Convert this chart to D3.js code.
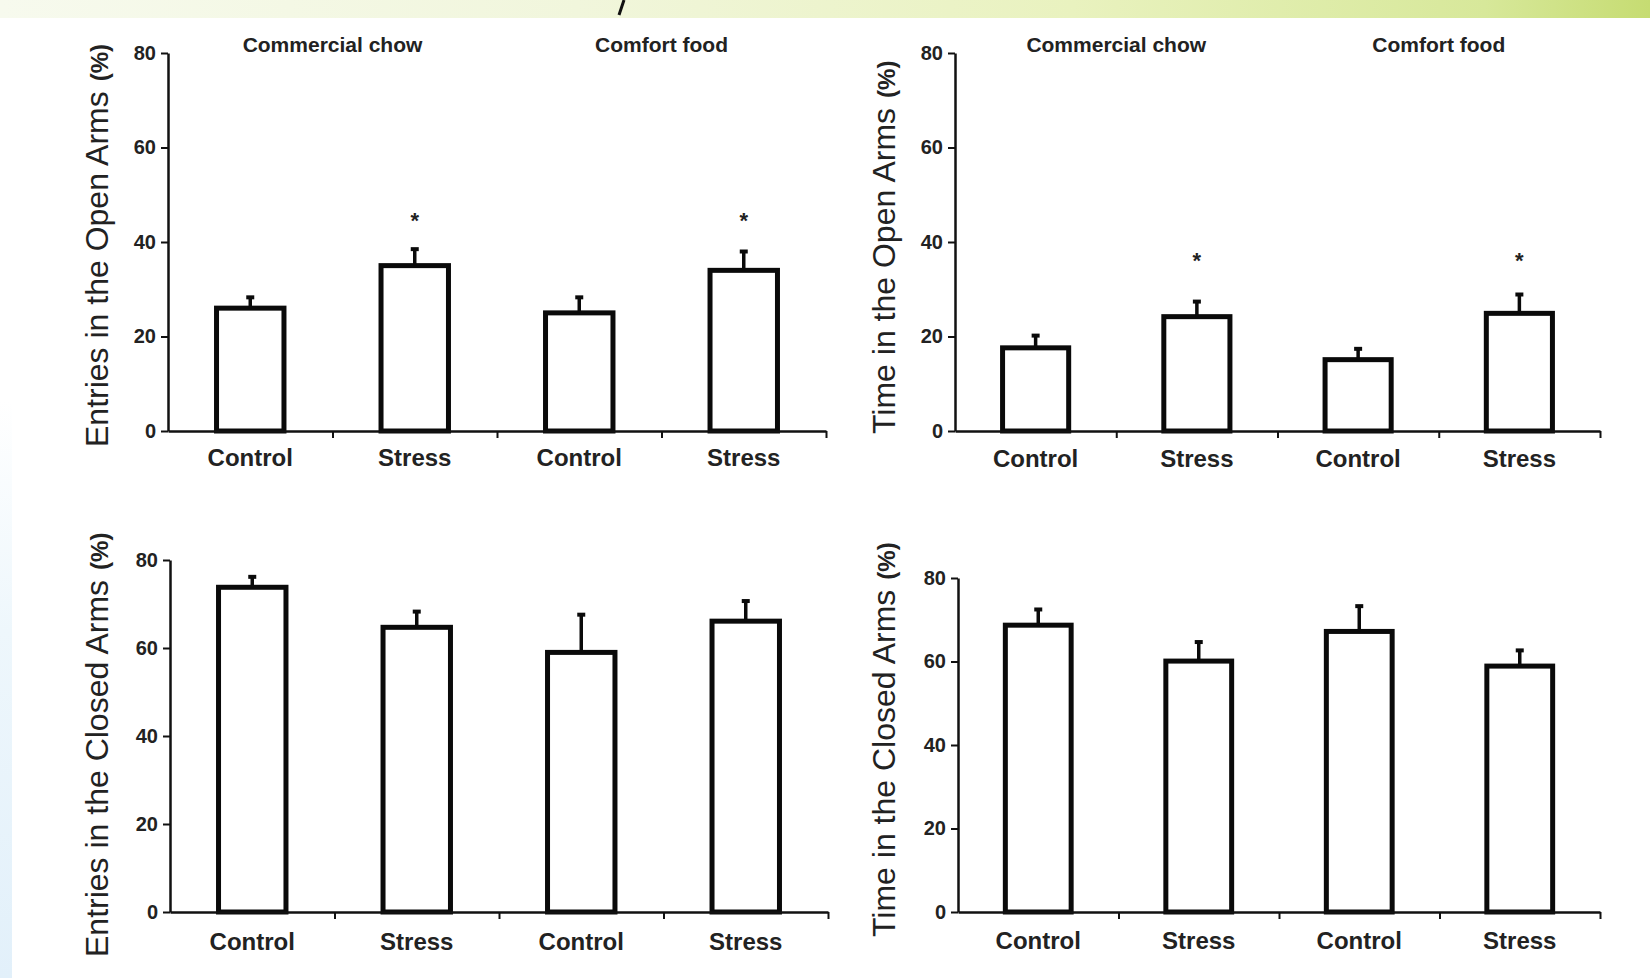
<!DOCTYPE html>
<html>
<head>
<meta charset="utf-8">
<script src="https://cdn.jsdelivr.net/npm/d3@7/dist/d3.min.js"></script>
<style>
  html, body { margin: 0; padding: 0; background: #fff; }
  svg { display: block; font-family: "Liberation Sans", Arial, sans-serif; }
</style>
</head>
<body>
<svg id="chart" width="1650" height="978"></svg>
<script>
// data (mean % and SEM)
const categories = ['Control', 'Stress', 'Control', 'Stress'];
const groupLabels = ['Commercial chow', 'Comfort food'];
const yTicks = [0, 20, 40, 60, 80];

const entriesOpen = [26.0, 35.0, 25.0, 34.0];
const entriesOpenSem = [2.5, 3.7, 3.5, 4.2];
const timeOpen = [17.6, 24.2, 15.1, 24.9];
const timeOpenSem = [2.8, 3.4, 2.5, 4.2];
const entriesClosed = [73.8, 64.7, 59.0, 66.1];
const entriesClosedSem = [2.6, 3.8, 8.8, 4.8];
const timeClosed = [68.7, 60.1, 67.2, 58.9];
const timeClosedSem = [4.0, 4.8, 6.3, 4.0];

// significance vs control (*)
const entriesOpenSig = [false, true, false, true];
const timeOpenSig = [false, true, false, true];

const panels = [
    { title: 'Entries in the Open Arms', values: entriesOpen, sem: entriesOpenSem, sig: entriesOpenSig, starAt: 45.5,
      left: 168, right: 826, top: 53, bottom: 431, groups: true, titleX: 97, titleBottom: 447, labelDy: 35 },
    { title: 'Time in the Open Arms', values: timeOpen, sem: timeOpenSem, sig: timeOpenSig, starAt: 37,
      left: 955, right: 1600, top: 53, bottom: 431, groups: true, titleX: 884, titleBottom: 434, labelDy: 36 },
    { title: 'Entries in the Closed Arms', values: entriesClosed, sem: entriesClosedSem, sig: null,
      left: 170, right: 828, top: 560, bottom: 912, groups: false, titleX: 97, titleBottom: 957, labelDy: 38 },
    { title: 'Time in the Closed Arms', values: timeClosed, sem: timeClosedSem, sig: null,
      left: 958, right: 1600, top: 578, bottom: 912, groups: false, titleX: 884, titleBottom: 937, labelDy: 37 }
];

const svg = d3.select('#chart');

// background decoration: banner strip at the top and the pale blue edge
const defs = svg.append('defs');
const topGrad = defs.append('linearGradient').attr('id', 'topband');
topGrad.append('stop').attr('offset', '0%').attr('stop-color', '#f7faee');
topGrad.append('stop').attr('offset', '35%').attr('stop-color', '#f1f6dc');
topGrad.append('stop').attr('offset', '65%').attr('stop-color', '#e9f2bf');
topGrad.append('stop').attr('offset', '90%').attr('stop-color', '#d7e89a');
topGrad.append('stop').attr('offset', '100%').attr('stop-color', '#c6dc72');
const sideGrad = defs.append('linearGradient').attr('id', 'sideband').attr('x1', 0).attr('x2', 0).attr('y1', 0).attr('y2', 1);
sideGrad.append('stop').attr('offset', '0%').attr('stop-color', '#ffffff');
sideGrad.append('stop').attr('offset', '40%').attr('stop-color', '#eef7fc');
sideGrad.append('stop').attr('offset', '100%').attr('stop-color', '#e2f0fa');

svg.append('rect').attr('x', 0).attr('y', 0).attr('width', 1650).attr('height', 18).attr('fill', 'url(#topband)');
svg.append('rect').attr('x', 0).attr('y', 400).attr('width', 12).attr('height', 578).attr('fill', 'url(#sideband)');
svg.append('line').attr('x1', 624).attr('y1', 0).attr('x2', 619).attr('y2', 15)
    .attr('stroke', '#111').attr('stroke-width', 3);

panels.forEach(p => drawPanel(p));

function drawPanel(p) {
    const g = svg.append('g');
    const y = d3.scaleLinear().domain([0, 80]).range([p.bottom, p.top]);
    const x = d3.scaleBand().domain(d3.range(categories.length))
        .range([p.left, p.right]).paddingInner(0.59).paddingOuter(0.295);
    const xLin = d3.scaleLinear().domain([0, categories.length]).range([p.left, p.right]);

    // y axis
    const yAxis = g.append('g')
        .attr('transform', `translate(${p.left},0)`)
        .call(d3.axisLeft(y).tickValues(yTicks).tickSize(7).tickSizeOuter(0).tickPadding(5));
    yAxis.select('.domain').attr('stroke', '#111').attr('stroke-width', 2.5);
    yAxis.selectAll('.tick line').attr('stroke', '#111').attr('stroke-width', 2);
    yAxis.selectAll('.tick text')
        .attr('font-family', '"Liberation Sans", Arial, sans-serif')
        .attr('font-size', 20).attr('font-weight', 'bold').attr('fill', '#222');

    // bars
    g.selectAll('rect.bar')
        .data(p.values)
        .join('rect')
        .attr('class', 'bar')
        .attr('x', (d, i) => x(i))
        .attr('width', x.bandwidth())
        .attr('y', d => y(d))
        .attr('height', d => y(0) - y(d))
        .attr('fill', '#fff')
        .attr('stroke', '#0a0a0a')
        .attr('stroke-width', 5);

    // error bars (upper half only)
    const err = g.selectAll('g.err')
        .data(p.values.map((v, i) => ({ v, s: p.sem[i], i })))
        .join('g').attr('class', 'err');
    err.append('line')
        .attr('x1', d => x(d.i) + x.bandwidth() / 2)
        .attr('x2', d => x(d.i) + x.bandwidth() / 2)
        .attr('y1', d => y(d.v))
        .attr('y2', d => y(d.v + d.s))
        .attr('stroke', '#0a0a0a').attr('stroke-width', 3.5);
    err.append('line')
        .attr('x1', d => x(d.i) + x.bandwidth() / 2 - 4)
        .attr('x2', d => x(d.i) + x.bandwidth() / 2 + 4)
        .attr('y1', d => y(d.v + d.s) + 1)
        .attr('y2', d => y(d.v + d.s) + 1)
        .attr('stroke', '#0a0a0a').attr('stroke-width', 4);

    // x axis with separators at band edges
    const xAxis = g.append('g')
        .attr('transform', `translate(0,${p.bottom})`)
        .call(d3.axisBottom(xLin).tickValues(d3.range(1, categories.length + 1))
            .tickFormat('').tickSize(7).tickSizeOuter(0));
    xAxis.select('.domain').attr('stroke', '#111').attr('stroke-width', 2.5);
    xAxis.selectAll('.tick line').attr('stroke', '#111').attr('stroke-width', 2);

    g.selectAll('text.cat')
        .data(categories)
        .join('text')
        .attr('class', 'cat')
        .attr('x', (d, i) => x(i) + x.bandwidth() / 2)
        .attr('y', p.bottom + p.labelDy)
        .attr('text-anchor', 'middle')
        .attr('font-size', 24).attr('font-weight', 'bold').attr('fill', '#222')
        .text(d => d);

    // significance stars
    if (p.sig) {
        g.selectAll('text.star')
            .data(p.sig.map((s, i) => ({ s, i })).filter(d => d.s))
            .join('text')
            .attr('class', 'star')
            .attr('x', d => x(d.i) + x.bandwidth() / 2)
            .attr('y', y(p.starAt) + 12)
            .attr('text-anchor', 'middle')
            .attr('font-size', 22).attr('font-weight', 'bold').attr('fill', '#222')
            .text('*');
    }

    // group headings over each pair of bars
    if (p.groups) {
        g.selectAll('text.grp')
            .data(groupLabels)
            .join('text')
            .attr('class', 'grp')
            .attr('x', (d, i) => (x(i * 2) + x(i * 2 + 1) + x.bandwidth()) / 2)
            .attr('y', p.top - 1)
            .attr('text-anchor', 'middle')
            .attr('font-size', 21).attr('font-weight', 'bold').attr('fill', '#222')
            .text(d => d);
    }

    // rotated axis title
    const t = g.append('text')
        .attr('transform', `translate(${p.titleX + 11},${p.titleBottom}) rotate(-90)`)
        .attr('font-size', 32).attr('fill', '#222');
    t.append('tspan').text(p.title);
    t.append('tspan').attr('dx', 10).attr('font-size', 24).attr('font-weight', 'bold').text('(%)');
}
</script>
</body>
</html>
